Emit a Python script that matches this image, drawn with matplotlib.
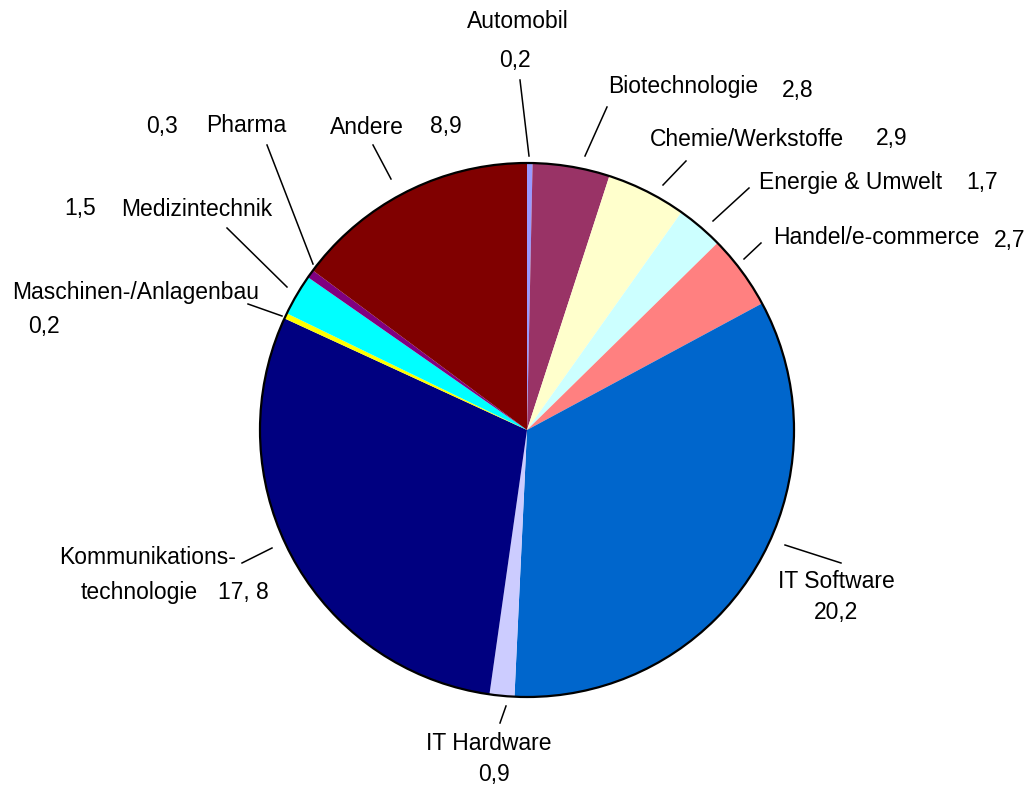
import matplotlib
matplotlib.use("Agg")
import matplotlib.pyplot as plt
from matplotlib.patches import Circle

plt.rcParams['font.family'] = ['Liberation Sans', 'DejaVu Sans']

categories = ["Automobil", "Biotechnologie", "Chemie/Werkstoffe", "Energie & Umwelt",
              "Handel/e-commerce", "IT Software", "IT Hardware", "Kommunikationstechnologie",
              "Maschinen-/Anlagenbau", "Medizintechnik", "Pharma", "Andere"]
values = [0.2, 2.8, 2.9, 1.7, 2.7, 20.2, 0.9, 17.8, 0.2, 1.5, 0.3, 8.9]
value_labels = ["0,2", "2,8", "2,9", "1,7", "2,7", "20,2", "0,9", "17, 8", "0,2", "1,5", "0,3", "8,9"]
colors = ["#9999FF", "#993366", "#FFFFCC", "#CCFFFF", "#FF8080", "#0066CC",
          "#CCCCFF", "#000080", "#FFFF00", "#00FFFF", "#800080", "#800000"]

W, H = 1031, 785
fig = plt.figure(figsize=(W / 100, H / 100), dpi=100)
ax = fig.add_axes([0, 0, 1, 1])

def P(x, y):
    return (x, H - y)

cx, cy = P(527, 430)
R = 267
ax.pie(values, colors=colors, startangle=90, counterclock=False,
       center=(cx, cy), radius=R, wedgeprops=dict(linewidth=0))
ax.add_patch(Circle((cx, cy), R, fill=False, edgecolor='black', linewidth=1.6, zorder=5))
ax.set_xlim(0, W)
ax.set_ylim(0, H)
ax.set_aspect('equal')
ax.axis('off')

fs = 16.5
# label layout (image pixel coordinates): name text, value text, leader line
layout = {
    "Automobil": dict(name=(518, 22, 'center'), val=(515, 60, 'center'), line=((520, 80), (529, 156))),
    "Biotechnologie": dict(name=(683, 87, 'center'), val=(798, 90, 'center'), line=((607, 107), (585, 156))),
    "Chemie/Werkstoffe": dict(name=(747, 139, 'center'), val=(892, 139, 'center'), line=((686, 161), (663, 185))),
    "Energie & Umwelt": dict(name=(851, 183, 'center'), val=(982, 183, 'center'), line=((749, 188), (713, 221))),
    "Handel/e-commerce": dict(name=(876, 238, 'center'), val=(1010, 240, 'center'), line=((761, 243), (744, 259))),
    "IT Software": dict(name=(836, 582, 'center'), val=(836, 612, 'center'), line=((841, 563), (785, 545))),
    "IT Hardware": dict(name=(489, 743, 'center'), val=(494, 775, 'center'), line=((500, 723), (506, 706))),
    "Kommunikationstechnologie": dict(name=(236, 558, 'right'), val=(243, 592, 'center'), line=((242, 563), (272, 548))),
    "Maschinen-/Anlagenbau": dict(name=(136, 292, 'center'), val=(44, 326, 'center'), line=((248, 304), (282, 316))),
    "Medizintechnik": dict(name=(197, 209, 'center'), val=(80, 209, 'center'), line=((227, 228), (287, 287))),
    "Pharma": dict(name=(246, 126, 'center'), val=(162, 126, 'center'), line=((267, 145), (313, 264))),
    "Andere": dict(name=(367, 127, 'center'), val=(446, 127, 'center'), line=((373, 145), (391, 179))),
}

for cat, vl in zip(categories, value_labels):
    L = layout[cat]
    nx, ny, ha = L["name"]
    if cat == "Kommunikationstechnologie":
        ax.text(*P(nx, ny), "Kommunikations-", ha='right', va='center', fontsize=fs)
        ax.text(*P(139, 592), "technologie", ha='center', va='center', fontsize=fs)
    else:
        ax.text(*P(nx, ny), cat, ha=ha, va='center', fontsize=fs)
    vx, vy, vha = L["val"]
    ax.text(*P(vx, vy), vl, ha=vha, va='center', fontsize=fs)
    (x1, y1), (x2, y2) = L["line"]
    a, b = P(x1, y1), P(x2, y2)
    ax.plot([a[0], b[0]], [a[1], b[1]], color='black', linewidth=1.1)

fig.savefig("out.png", dpi=100)
